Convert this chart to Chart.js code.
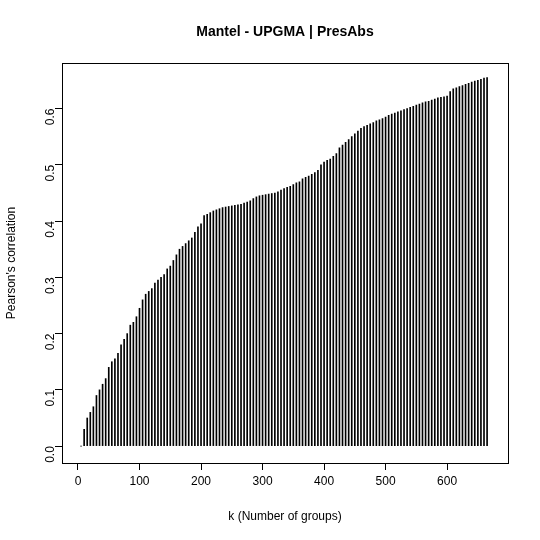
<!DOCTYPE html>
<html>
<head>
<script src="https://cdn.jsdelivr.net/npm/chart.js@4"></script>
<style>body{margin:0;background:#fff}</style>
</head>
<body>
<canvas id="c" width="540" height="540"></canvas>
<script>
// k values (number of groups) and Pearson's correlation
const kValues = [];
for (let k = 5; k <= 665; k += 5) kValues.push(k);
const correlation = [
  0.0, 0.03, 0.05, 0.06, 0.07, 0.09, 0.1, 0.11, 0.12, 0.14,
  0.15, 0.155, 0.165, 0.18, 0.19, 0.2, 0.215, 0.22, 0.23, 0.245,
  0.26, 0.27, 0.275, 0.28, 0.29, 0.295, 0.3, 0.305, 0.315, 0.32,
  0.33, 0.34, 0.35, 0.355, 0.36, 0.365, 0.37, 0.38, 0.39, 0.395,
  0.41, 0.412, 0.415, 0.418, 0.42, 0.422, 0.424, 0.425, 0.426, 0.427,
  0.428, 0.429, 0.43, 0.432, 0.434, 0.436, 0.44, 0.443, 0.445, 0.446,
  0.447, 0.448, 0.449, 0.45, 0.452, 0.455, 0.458, 0.46, 0.462, 0.465,
  0.468, 0.47, 0.475, 0.478, 0.48, 0.483, 0.486, 0.49, 0.5, 0.505,
  0.508, 0.51, 0.515, 0.52, 0.53, 0.535, 0.54, 0.545, 0.55, 0.555,
  0.56, 0.565, 0.568, 0.57, 0.573, 0.575, 0.578, 0.58, 0.582, 0.585,
  0.588, 0.59, 0.592, 0.594, 0.596, 0.598, 0.6, 0.602, 0.604, 0.606,
  0.608, 0.61, 0.612, 0.613, 0.615, 0.617, 0.619, 0.62, 0.621, 0.622,
  0.63, 0.635, 0.637, 0.639, 0.641, 0.643, 0.645, 0.647, 0.649, 0.65,
  0.652, 0.654, 0.655
];
const xTicks = [0, 100, 200, 300, 400, 500, 600];
const yTicks = [0.0, 0.1, 0.2, 0.3, 0.4, 0.5, 0.6];

const points = kValues.map((k, i) => ({ x: k, y: correlation[i] }));

// draws the box and the texts like base R graphics
const rStyle = {
  id: "rStyle",
  afterDraw(chart) {
    const ctx = chart.ctx, a = chart.chartArea;
    ctx.save();
    ctx.strokeStyle = "#000";
    ctx.lineWidth = 1;
    ctx.strokeRect(a.left + 0.5, a.top + 0.5, a.right - a.left, a.bottom - a.top);
    ctx.fillStyle = "#000";
    ctx.textAlign = "center";
    ctx.textBaseline = "middle";
    ctx.font = "bold 14px 'Liberation Sans', Arial";
    ctx.fillText("Mantel - UPGMA | PresAbs", (a.left + a.right) / 2, 32);
    ctx.font = "12px 'Liberation Sans', Arial";
    ctx.fillText("k (Number of groups)", (a.left + a.right) / 2, 517);
    ctx.translate(12, (a.top + a.bottom) / 2);
    ctx.rotate(-Math.PI / 2);
    ctx.fillText("Pearson's correlation", 0, 0);
    ctx.restore();
  }
};

new Chart(document.getElementById("c"), {
  type: "bar",
  data: {
    datasets: [{
      data: points,
      backgroundColor: "#000",
      barThickness: 1
    }]
  },
  options: {
    responsive: false,
    animation: false,
    layout: { padding: { top: 63, right: 32, left: 0, bottom: 0 } },
    plugins: { legend: { display: false }, tooltip: { enabled: false } },
    scales: {
      x: {
        type: "linear",
        offset: false,
        min: -26, max: 699,
        afterFit: s => { s.height = 77; },
        afterBuildTicks: s => { s.ticks = xTicks.map(v => ({ value: v })); },
        grid: { drawOnChartArea: false, offset: false, tickLength: 7, color: "#000" },
        border: { display: false },
        ticks: { color: "#000", font: { size: 12, family: "'Liberation Sans', Arial" }, padding: 4 }
      },
      y: {
        min: -0.03, max: 0.681,
        afterFit: s => { s.width = 62; },
        afterBuildTicks: s => { s.ticks = yTicks.map(v => ({ value: v })); },
        grid: { drawOnChartArea: false, tickLength: 7, color: "#000" },
        border: { display: false },
        ticks: {
          color: "#000", minRotation: 90, maxRotation: 90, padding: 4,
          font: { size: 12, family: "'Liberation Sans', Arial" },
          callback: v => v.toFixed(1)
        }
      }
    }
  },
  plugins: [rStyle]
});
</script>
</body>
</html>
